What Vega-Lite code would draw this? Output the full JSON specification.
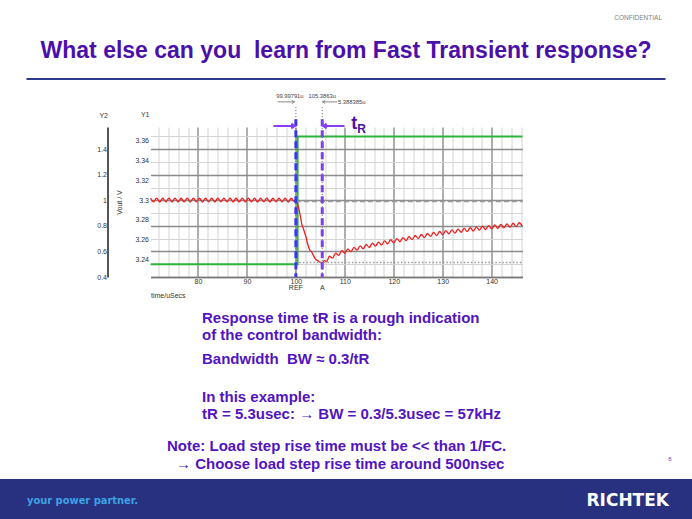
{
  "$schema": "https://vega.github.io/schema/vega-lite/v6.json",
  "background": "white",
  "padding": {"top": 14, "left": 0, "right": 0, "bottom": 0},
  "spacing": 13,
  "center": true,
  "config": {
    "view": {"stroke": null},
    "font": "Liberation Sans",
    "concat": {"spacing": 0}
  },
  "title": {"text": "CONFIDENTIAL", "anchor": "end", "dx": -30, "fontSize": 6.5, "fontWeight": "normal", "color": "#808080", "offset": 19},
  "vconcat": [
    {
      "width": 639,
      "height": 2,
      "view": {"fill": "#2E3A8C", "stroke": null},
      "title": {"text": "What else can you\u00a0 learn from Fast Transient response?", "anchor": "middle", "fontSize": 23, "fontWeight": "bold", "color": "#4B0FAA", "baseline": "alphabetic", "offset": -3},
      "data": {"values": []},
      "mark": "text"
    },
    {
      "spacing": 0,
      "hconcat": [
        {
          "width": 372,
          "height": 150,
          "resolve": {"scale": {"y": "independent"}},
          "layer": [
            {
              "data": {"values": [{"t": 70.3, "i": 0.5}, {"t": 100.35, "i": 1.5}, {"t": 146.3, "i": 1.5}]},
              "mark": {"type": "line", "interpolate": "step-after", "color": "#2DB33A", "strokeWidth": 2},
              "encoding": {
                "x": {"field": "t", "type": "quantitative", "title": "time/uSecs",
                  "scale": {"domain": [70.3, 146.3], "nice": false, "zero": false},
                  "axis": {
                    "values": [72,74,76,78,80,82,84,86,88,90,92,94,96,98,100,102,104,106,108,110,112,114,116,118,120,122,124,126,128,130,132,134,136,138,140,142,144,146],
                    "tickCount": 100,
                    "labelExpr": "datum.value % 10 === 0 ? datum.label : ''",
                    "labelOverlap": false,
                    "grid": true,
                    "gridColor": {"condition": {"test": "datum.value % 10 === 0", "value": "#8c8c8c"}, "value": "#d4d4d4"},
                    "gridWidth": {"condition": {"test": "datum.value % 10 === 0", "value": 1.4}, "value": 1},
                    "ticks": false,
                    "domainColor": "#777777",
                    "domainWidth": 1.5,
                    "labelFontSize": 7,
                    "labelColor": "#333333",
                    "labelPadding": 0,
                    "labelFlush": false,
                    "title": "time/uSecs",
                    "titleFontSize": 7,
                    "titleFontWeight": "normal",
                    "titleColor": "#333333",
                    "titleAnchor": "start",
                    "titlePadding": 7
                  }
                },
                "y": {"field": "i", "type": "quantitative", "title": "Y2",
                  "scale": {"domain": [0.4, 1.574], "nice": false, "zero": false},
                  "axis": {
                    "orient": "left",
                    "offset": 43,
                    "values": [0.4,0.5,0.6,0.7,0.8,0.9,1.0,1.1,1.2,1.3,1.4,1.5],
                    "tickCount": 100,
                    "labelExpr": "round(datum.value*10) % 2 === 0 ? format(datum.value, '~g') : ''",
                    "labelOverlap": false,
                    "grid": true,
                    "gridColor": {"condition": {"test": "round(datum.value*10) % 2 === 0", "value": "#8c8c8c"}, "value": "#d4d4d4"},
                    "gridWidth": {"condition": {"test": "round(datum.value*10) % 2 === 0", "value": 1.4}, "value": 1},
                    "ticks": false,
                    "domain": true,
                    "domainColor": "#555555",
                    "domainWidth": 2,
                    "labelFontSize": 7,
                    "labelColor": "#333333",
                    "labelPadding": 1,
                    "title": "Y2",
                    "titleAngle": 0,
                    "titleX": 0,
                    "titleY": -12,
                    "titleAlign": "right",
                    "titleBaseline": "middle",
                    "titleFontSize": 7,
                    "titleFontWeight": "normal",
                    "titleColor": "#333333"
                  }
                }
              }
            },
            {
              "layer": [
                {
                  "data": {"values": [
                    {"t": 70.30, "v": 3.3019}, {"t": 70.93, "v": 3.2981}, {"t": 71.55, "v": 3.3020}, {"t": 72.18, "v": 3.2980},
                    {"t": 72.80, "v": 3.3018}, {"t": 73.43, "v": 3.2982}, {"t": 74.05, "v": 3.3019}, {"t": 74.68, "v": 3.2980},
                    {"t": 75.30, "v": 3.3020}, {"t": 75.93, "v": 3.2981}, {"t": 76.55, "v": 3.3018}, {"t": 77.18, "v": 3.2981},
                    {"t": 77.80, "v": 3.3019}, {"t": 78.43, "v": 3.2980}, {"t": 79.05, "v": 3.3020}, {"t": 79.68, "v": 3.2982},
                    {"t": 80.30, "v": 3.3018}, {"t": 80.93, "v": 3.2980}, {"t": 81.55, "v": 3.3019}, {"t": 82.18, "v": 3.2981},
                    {"t": 82.80, "v": 3.3020}, {"t": 83.43, "v": 3.2980}, {"t": 84.05, "v": 3.3018}, {"t": 84.68, "v": 3.2982},
                    {"t": 85.30, "v": 3.3019}, {"t": 85.93, "v": 3.2981}, {"t": 86.55, "v": 3.3020}, {"t": 87.18, "v": 3.2980},
                    {"t": 87.80, "v": 3.3018}, {"t": 88.43, "v": 3.2981}, {"t": 89.05, "v": 3.3019}, {"t": 89.68, "v": 3.2980},
                    {"t": 90.30, "v": 3.3020}, {"t": 90.93, "v": 3.2982}, {"t": 91.55, "v": 3.3018}, {"t": 92.18, "v": 3.2980},
                    {"t": 92.80, "v": 3.3019}, {"t": 93.43, "v": 3.2981}, {"t": 94.05, "v": 3.3020}, {"t": 94.68, "v": 3.2980},
                    {"t": 95.30, "v": 3.3018}, {"t": 95.93, "v": 3.2982}, {"t": 96.55, "v": 3.3019}, {"t": 97.18, "v": 3.2981},
                    {"t": 97.80, "v": 3.3020}, {"t": 98.43, "v": 3.2980}, {"t": 99.05, "v": 3.3018}, {"t": 99.68, "v": 3.2986},
                    {"t": 100.00, "v": 3.2992}, {"t": 100.35, "v": 3.2960}, {"t": 100.75, "v": 3.2880}, {"t": 101.20, "v": 3.2760},
                    {"t": 101.60, "v": 3.2700}, {"t": 102.00, "v": 3.2640}, {"t": 102.40, "v": 3.2560}, {"t": 102.80, "v": 3.2500},
                    {"t": 103.20, "v": 3.2478}, {"t": 103.60, "v": 3.2440}, {"t": 104.00, "v": 3.2405}, {"t": 104.50, "v": 3.2388},
                    {"t": 105.00, "v": 3.2372}, {"t": 105.40, "v": 3.2366}, {"t": 105.80, "v": 3.2392},
                    {"t": 106.25, "v": 3.2380}, {"t": 106.88, "v": 3.2434}, {"t": 107.50, "v": 3.2415}, {"t": 108.13, "v": 3.2466},
                    {"t": 108.75, "v": 3.2442}, {"t": 109.38, "v": 3.2489}, {"t": 110.00, "v": 3.2464}, {"t": 110.63, "v": 3.2508},
                    {"t": 111.25, "v": 3.2480}, {"t": 111.88, "v": 3.2524}, {"t": 112.50, "v": 3.2495}, {"t": 113.13, "v": 3.2538},
                    {"t": 113.75, "v": 3.2509}, {"t": 114.38, "v": 3.2552}, {"t": 115.00, "v": 3.2522}, {"t": 115.63, "v": 3.2565},
                    {"t": 116.25, "v": 3.2535}, {"t": 116.88, "v": 3.2577}, {"t": 117.50, "v": 3.2547}, {"t": 118.13, "v": 3.2589},
                    {"t": 118.75, "v": 3.2558}, {"t": 119.38, "v": 3.2600}, {"t": 120.00, "v": 3.2569}, {"t": 120.63, "v": 3.2611},
                    {"t": 121.25, "v": 3.2580}, {"t": 121.88, "v": 3.2622}, {"t": 122.50, "v": 3.2591}, {"t": 123.13, "v": 3.2632},
                    {"t": 123.75, "v": 3.2602}, {"t": 124.38, "v": 3.2643}, {"t": 125.00, "v": 3.2612}, {"t": 125.63, "v": 3.2653},
                    {"t": 126.25, "v": 3.2622}, {"t": 126.88, "v": 3.2663}, {"t": 127.50, "v": 3.2633}, {"t": 128.13, "v": 3.2674},
                    {"t": 128.75, "v": 3.2643}, {"t": 129.38, "v": 3.2683}, {"t": 130.00, "v": 3.2652}, {"t": 130.63, "v": 3.2692},
                    {"t": 131.25, "v": 3.2660}, {"t": 131.88, "v": 3.2699}, {"t": 132.50, "v": 3.2667}, {"t": 133.13, "v": 3.2707},
                    {"t": 133.75, "v": 3.2675}, {"t": 134.38, "v": 3.2714}, {"t": 135.00, "v": 3.2682}, {"t": 135.63, "v": 3.2721},
                    {"t": 136.25, "v": 3.2688}, {"t": 136.88, "v": 3.2728}, {"t": 137.50, "v": 3.2696}, {"t": 138.13, "v": 3.2736},
                    {"t": 138.75, "v": 3.2703}, {"t": 139.38, "v": 3.2743}, {"t": 140.00, "v": 3.2710}, {"t": 140.63, "v": 3.2749},
                    {"t": 141.25, "v": 3.2716}, {"t": 141.88, "v": 3.2754}, {"t": 142.50, "v": 3.2721}, {"t": 143.13, "v": 3.2760},
                    {"t": 143.75, "v": 3.2727}, {"t": 144.38, "v": 3.2766}, {"t": 145.00, "v": 3.2732}, {"t": 145.63, "v": 3.2771},
                    {"t": 146.25, "v": 3.2738}
                  ]},
                  "mark": {"type": "line", "color": "#F01E1E", "strokeWidth": 1.3, "interpolate": "monotone"},
                  "encoding": {
                    "x": {"field": "t", "type": "quantitative", "title": "time/uSecs", "scale": {"domain": [70.3, 146.3], "nice": false, "zero": false}},
                    "y": {"field": "v", "type": "quantitative", "title": "Vout / V",
                      "scale": {"domain": [3.2225, 3.3735], "nice": false, "zero": false},
                      "axis": {
                        "orient": "left",
                        "values": [3.24, 3.26, 3.28, 3.3, 3.32, 3.34, 3.36],
                        "tickCount": 100,
                        "format": "~g",
                        "labelOverlap": false,
                        "grid": false,
                        "ticks": false,
                        "domain": false,
                        "labelFontSize": 7,
                        "labelColor": "#333333",
                        "labelPadding": 2,
                        "title": "Vout / V",
                        "titleFontSize": 7,
                        "titleFontWeight": "normal",
                        "titleColor": "#333333",
                        "titleAngle": -90,
                        "titleX": -31,
                        "titleY": 75,
                        "titleAlign": "center",
                        "titleBaseline": "middle"
                      }
                    }
                  }
                },
                {
                  "data": {"name": "cursors", "values": [
                    {"cursor": "REF", "t": 99.99791, "label": "99.99791u", "v": 3.2985},
                    {"cursor": "A", "t": 105.3863, "label": "105.3863u", "v": 3.2370}
                  ]},
                  "layer": [
                    {
                      "mark": {"type": "rule", "color": "#9a9a9a", "strokeWidth": 1.5},
                      "encoding": {
                        "x": {"datum": 99.99791, "type": "quantitative", "scale": {"domain": [70.3, 146.3], "nice": false, "zero": false}},
                        "x2": {"datum": 146.3},
                        "y": {"field": "v", "type": "quantitative", "title": "Vout / V", "scale": {"domain": [3.2225, 3.3735], "nice": false, "zero": false}},
                        "strokeDash": {"field": "cursor", "type": "nominal", "scale": {"domain": ["REF", "A"], "range": [[5, 3], [1.5, 2]]}, "legend": null}
                      }
                    },
                    {
                      "mark": {"type": "rule", "color": "#666666", "strokeWidth": 1, "strokeDash": [1, 2]},
                      "encoding": {
                        "x": {"field": "t", "type": "quantitative", "title": "time/uSecs", "scale": {"domain": [70.3, 146.3], "nice": false, "zero": false}},
                        "y": {"datum": 3.3935, "type": "quantitative", "scale": {"domain": [3.2225, 3.3735], "nice": false, "zero": false}},
                        "y2": {"datum": 3.2225}
                      }
                    },
                    {
                      "mark": {"type": "rule", "strokeWidth": 3, "strokeDash": [7, 4]},
                      "encoding": {
                        "x": {"field": "t", "type": "quantitative", "title": "time/uSecs", "scale": {"domain": [70.3, 146.3], "nice": false, "zero": false}},
                        "y": {"datum": 3.3814, "type": "quantitative", "scale": {"domain": [3.2225, 3.3735], "nice": false, "zero": false}},
                        "y2": {"datum": 3.2225},
                        "color": {"field": "cursor", "type": "nominal", "scale": {"domain": ["REF", "A"], "range": ["#3838F0", "#7E40E8"]}, "legend": null}
                      }
                    },
                    {
                      "transform": [{"filter": "datum.cursor === 'REF'"}],
                      "mark": {"type": "text", "fontSize": 5.8, "color": "#444444", "baseline": "middle", "dx": -6},
                      "encoding": {
                        "x": {"field": "t", "type": "quantitative", "title": "time/uSecs", "scale": {"domain": [70.3, 146.3], "nice": false, "zero": false}},
                        "y": {"datum": 3.4045, "type": "quantitative", "scale": {"domain": [3.2225, 3.3735], "nice": false, "zero": false}},
                        "text": {"field": "label"}
                      }
                    },
                    {
                      "transform": [{"filter": "datum.cursor === 'A'"}],
                      "mark": {"type": "text", "fontSize": 5.8, "color": "#444444", "baseline": "middle"},
                      "encoding": {
                        "x": {"field": "t", "type": "quantitative", "title": "time/uSecs", "scale": {"domain": [70.3, 146.3], "nice": false, "zero": false}},
                        "y": {"datum": 3.4045, "type": "quantitative", "scale": {"domain": [3.2225, 3.3735], "nice": false, "zero": false}},
                        "text": {"field": "label"}
                      }
                    },
                    {
                      "mark": {"type": "text", "fontSize": 7, "color": "#333333", "baseline": "middle"},
                      "encoding": {
                        "x": {"field": "t", "type": "quantitative", "title": "time/uSecs", "scale": {"domain": [70.3, 146.3], "nice": false, "zero": false}},
                        "y": {"datum": 3.2116, "type": "quantitative", "scale": {"domain": [3.2225, 3.3735], "nice": false, "zero": false}},
                        "text": {"field": "cursor"}
                      }
                    }
                  ]
                },
                {
                  "data": {"values": [{"delta": "5.388385u"}]},
                  "layer": [
                    {
                      "mark": {"type": "rule", "color": "#888888", "strokeWidth": 1},
                      "encoding": {
                        "x": {"datum": 96.24, "type": "quantitative", "scale": {"domain": [70.3, 146.3], "nice": false, "zero": false}},
                        "x2": {"datum": 99.72},
                        "y": {"datum": 3.3988, "type": "quantitative", "scale": {"domain": [3.2225, 3.3735], "nice": false, "zero": false}}
                      }
                    },
                    {
                      "mark": {"type": "point", "shape": "M-1,-0.6L0,0L-1,0.6", "filled": false, "stroke": "#888888", "strokeWidth": 1, "size": 30, "opacity": 1},
                      "encoding": {
                        "x": {"datum": 99.72, "type": "quantitative", "scale": {"domain": [70.3, 146.3], "nice": false, "zero": false}},
                        "y": {"datum": 3.3988, "type": "quantitative", "scale": {"domain": [3.2225, 3.3735], "nice": false, "zero": false}}
                      }
                    },
                    {
                      "mark": {"type": "rule", "color": "#888888", "strokeWidth": 1},
                      "encoding": {
                        "x": {"datum": 105.44, "type": "quantitative", "scale": {"domain": [70.3, 146.3], "nice": false, "zero": false}},
                        "x2": {"datum": 108.4},
                        "y": {"datum": 3.3988, "type": "quantitative", "scale": {"domain": [3.2225, 3.3735], "nice": false, "zero": false}}
                      }
                    },
                    {
                      "mark": {"type": "point", "shape": "M1,-0.6L0,0L1,0.6", "filled": false, "stroke": "#888888", "strokeWidth": 1, "size": 30, "opacity": 1},
                      "encoding": {
                        "x": {"datum": 105.44, "type": "quantitative", "scale": {"domain": [70.3, 146.3], "nice": false, "zero": false}},
                        "y": {"datum": 3.3988, "type": "quantitative", "scale": {"domain": [3.2225, 3.3735], "nice": false, "zero": false}}
                      }
                    },
                    {
                      "mark": {"type": "text", "fontSize": 5.8, "color": "#444444", "align": "left", "baseline": "middle", "dx": 1},
                      "encoding": {
                        "x": {"datum": 108.4, "type": "quantitative", "scale": {"domain": [70.3, 146.3], "nice": false, "zero": false}},
                        "y": {"datum": 3.3988, "type": "quantitative", "scale": {"domain": [3.2225, 3.3735], "nice": false, "zero": false}},
                        "text": {"field": "delta"}
                      }
                    }
                  ]
                },
                {
                  "data": {"values": [{"base": "t", "sub": "R", "axisname": "Y1"}]},
                  "layer": [
                    {
                      "mark": {"type": "rule", "color": "#8A3DF5", "strokeWidth": 2},
                      "encoding": {
                        "x": {"datum": 95.43, "type": "quantitative", "scale": {"domain": [70.3, 146.3], "nice": false, "zero": false}},
                        "x2": {"datum": 99.7},
                        "y": {"datum": 3.3745, "type": "quantitative", "scale": {"domain": [3.2225, 3.3735], "nice": false, "zero": false}}
                      }
                    },
                    {
                      "mark": {"type": "point", "shape": "M-1,-0.7L0,0L-1,0.7", "filled": false, "stroke": "#8A3DF5", "strokeWidth": 2, "size": 45, "opacity": 1},
                      "encoding": {
                        "x": {"datum": 99.75, "type": "quantitative", "scale": {"domain": [70.3, 146.3], "nice": false, "zero": false}},
                        "y": {"datum": 3.3745, "type": "quantitative", "scale": {"domain": [3.2225, 3.3735], "nice": false, "zero": false}}
                      }
                    },
                    {
                      "mark": {"type": "rule", "color": "#8A3DF5", "strokeWidth": 2},
                      "encoding": {
                        "x": {"datum": 105.65, "type": "quantitative", "scale": {"domain": [70.3, 146.3], "nice": false, "zero": false}},
                        "x2": {"datum": 109.95},
                        "y": {"datum": 3.3745, "type": "quantitative", "scale": {"domain": [3.2225, 3.3735], "nice": false, "zero": false}}
                      }
                    },
                    {
                      "mark": {"type": "point", "shape": "M1,-0.7L0,0L1,0.7", "filled": false, "stroke": "#8A3DF5", "strokeWidth": 2, "size": 45, "opacity": 1},
                      "encoding": {
                        "x": {"datum": 105.6, "type": "quantitative", "scale": {"domain": [70.3, 146.3], "nice": false, "zero": false}},
                        "y": {"datum": 3.3745, "type": "quantitative", "scale": {"domain": [3.2225, 3.3735], "nice": false, "zero": false}}
                      }
                    },
                    {
                      "mark": {"type": "text", "fontSize": 18, "fontWeight": "bold", "color": "#4A10A8", "align": "left", "baseline": "middle"},
                      "encoding": {
                        "x": {"datum": 111.3, "type": "quantitative", "scale": {"domain": [70.3, 146.3], "nice": false, "zero": false}},
                        "y": {"datum": 3.3770, "type": "quantitative", "scale": {"domain": [3.2225, 3.3735], "nice": false, "zero": false}},
                        "text": {"field": "base"}
                      }
                    },
                    {
                      "mark": {"type": "text", "fontSize": 12, "fontWeight": "bold", "color": "#4A10A8", "align": "left", "baseline": "middle", "dx": 6, "dy": 5},
                      "encoding": {
                        "x": {"datum": 111.3, "type": "quantitative", "scale": {"domain": [70.3, 146.3], "nice": false, "zero": false}},
                        "y": {"datum": 3.3770, "type": "quantitative", "scale": {"domain": [3.2225, 3.3735], "nice": false, "zero": false}},
                        "text": {"field": "sub"}
                      }
                    },
                    {
                      "mark": {"type": "text", "fontSize": 7, "color": "#333333", "align": "right", "baseline": "middle", "dx": -1},
                      "encoding": {
                        "x": {"datum": 70.3, "type": "quantitative", "scale": {"domain": [70.3, 146.3], "nice": false, "zero": false}},
                        "y": {"datum": 3.3854, "type": "quantitative", "scale": {"domain": [3.2225, 3.3735], "nice": false, "zero": false}},
                        "text": {"field": "axisname"}
                      }
                    }
                  ]
                }
              ]
            }
          ]
        },
        {
          "width": 15,
          "height": 10,
          "data": {"values": []},
          "mark": "text"
        }
      ]
    },
    {
      "width": 692,
      "height": 42,
      "view": {"fill": "#283180", "stroke": null},
      "layer": [
        {
          "data": {"values": [{"txt": "Response time tR is a rough indication"}]},
          "mark": {"type": "text", "align": "left", "baseline": "middle", "dx": -144, "dy": -181.7, "font": "Liberation Sans", "fontWeight": "bold", "fontSize": 15, "color": "#5214C0"},
          "encoding": {"text": {"field": "txt"}}
        },
        {
          "data": {"values": [{"txt": "of the control bandwidth:"}]},
          "mark": {"type": "text", "align": "left", "baseline": "middle", "dx": -144, "dy": -165, "font": "Liberation Sans", "fontWeight": "bold", "fontSize": 15, "color": "#5214C0"},
          "encoding": {"text": {"field": "txt"}}
        },
        {
          "data": {"values": [{"txt": "Bandwidth\u00a0 BW \u2248 0.3/tR"}]},
          "mark": {"type": "text", "align": "left", "baseline": "middle", "dx": -144, "dy": -140.7, "font": "Liberation Sans", "fontWeight": "bold", "fontSize": 15, "color": "#5214C0"},
          "encoding": {"text": {"field": "txt"}}
        },
        {
          "data": {"values": [{"txt": "In this example:"}]},
          "mark": {"type": "text", "align": "left", "baseline": "middle", "dx": -144, "dy": -103.3, "font": "Liberation Sans", "fontWeight": "bold", "fontSize": 15, "color": "#5214C0"},
          "encoding": {"text": {"field": "txt"}}
        },
        {
          "data": {"values": [{"txt": "tR = 5.3usec: \u2192 BW = 0.3/5.3usec = 57kHz"}]},
          "mark": {"type": "text", "align": "left", "baseline": "middle", "dx": -144, "dy": -85.7, "font": "Liberation Sans", "fontWeight": "bold", "fontSize": 15, "color": "#5214C0"},
          "encoding": {"text": {"field": "txt"}}
        },
        {
          "data": {"values": [{"txt": "Note: Load step rise time must be << than 1/FC."}]},
          "mark": {"type": "text", "align": "left", "baseline": "middle", "dx": -179, "dy": -54, "font": "Liberation Sans", "fontWeight": "bold", "fontSize": 15, "color": "#5214C0"},
          "encoding": {"text": {"field": "txt"}}
        },
        {
          "data": {"values": [{"txt": "\u2192 Choose load step rise time around 500nsec"}]},
          "mark": {"type": "text", "align": "left", "baseline": "middle", "dx": -170, "dy": -36, "font": "Liberation Sans", "fontWeight": "bold", "fontSize": 15, "color": "#5214C0"},
          "encoding": {"text": {"field": "txt"}}
        },
        {
          "data": {"values": [{"txt": "8"}]},
          "mark": {"type": "text", "align": "center", "baseline": "middle", "dx": 324, "dy": -41, "fontSize": 6, "color": "#6B4FC8"},
          "encoding": {"text": {"field": "txt"}}
        },
        {
          "data": {"values": [{"txt": "your power partner."}]},
          "mark": {"type": "text", "align": "left", "baseline": "middle", "dx": -319, "dy": 1, "font": "DejaVu Sans Condensed", "fontWeight": "bold", "fontSize": 11, "color": "#3DA2E3"},
          "encoding": {"text": {"field": "txt"}}
        },
        {
          "data": {"values": [{"txt": "RICHTEK"}]},
          "mark": {"type": "text", "align": "right", "baseline": "middle", "dx": 323, "dy": 1, "font": "DejaVu Sans", "fontWeight": "bold", "fontSize": 17, "color": "#FFFFFF"},
          "encoding": {"text": {"field": "txt"}}
        }
      ]
    }
  ]
}
